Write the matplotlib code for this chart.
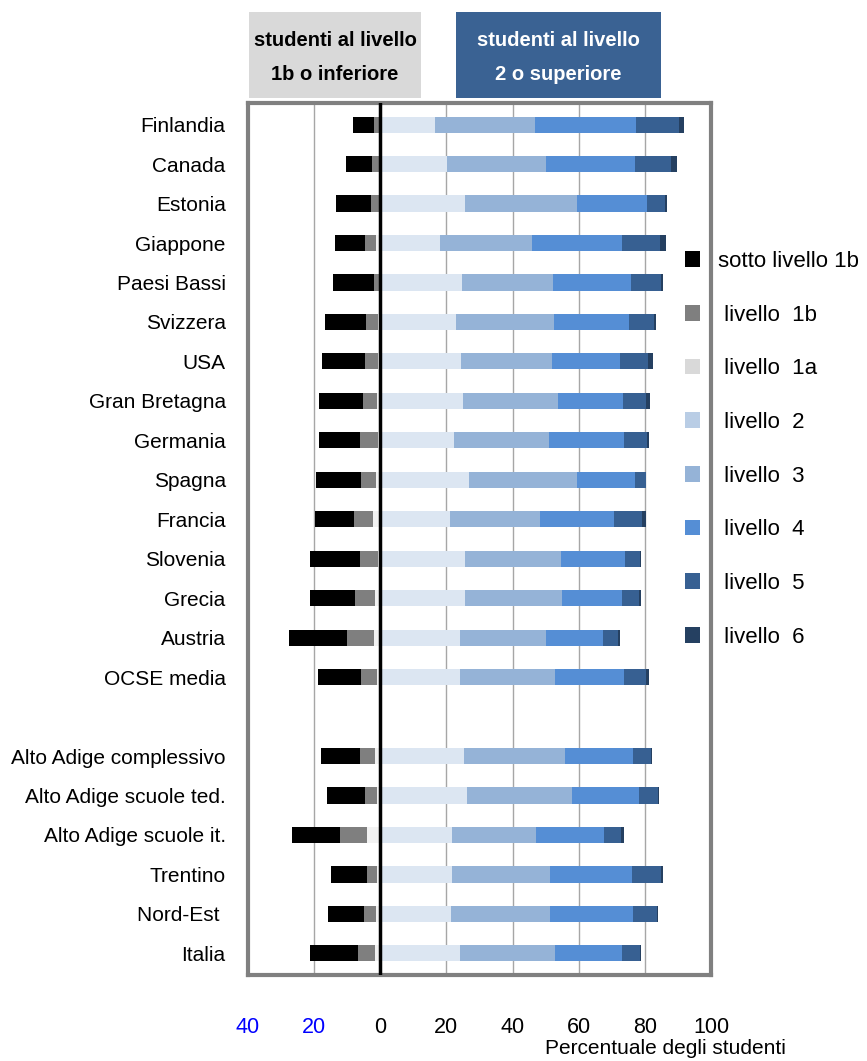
import numpy as np
import matplotlib
matplotlib.use("Agg")
import matplotlib.pyplot as plt
from matplotlib.patches import Rectangle, Patch

# PISA reading levels, % of students
paesi = ["Finlandia", "Canada", "Estonia", "Giappone", "Paesi Bassi", "Svizzera",
         "USA", "Gran Bretagna", "Germania", "Spagna", "Francia", "Slovenia",
         "Grecia", "Austria", "OCSE media", "",
         "Alto Adige complessivo", "Alto Adige scuole ted.", "Alto Adige scuole it.",
         "Trentino", "Nord-Est ", "Italia"]

# negative side, from 0 outwards
liv_1a = [0.2, 0.4, 0.3, 1.3, 0.1, 0.7, 0.6, 1.0, 0.8, 1.2, 2.3, 0.8, 1.6, 1.9, 1.1, 0,
          1.5, 0.9, 3.9, 0.9, 1.2, 1.5]
liv_1b = [1.7, 2.0, 2.4, 3.4, 1.8, 3.7, 4.0, 4.1, 5.2, 4.7, 5.5, 5.2, 5.9, 8.1, 4.6, 0,
          4.6, 3.6, 8.3, 3.2, 3.6, 5.2]
sotto_1b = [6.2, 7.9, 10.6, 8.9, 12.5, 12.3, 13.1, 13.4, 12.5, 13.6, 11.8, 15.2, 13.7, 17.5, 13.1, 0,
            11.9, 11.5, 14.4, 10.7, 10.9, 14.4]

# positive side
liv_2 = [16.7, 20.2, 25.6, 18.0, 24.7, 22.8, 24.4, 24.9, 22.2, 26.8, 21.1, 25.6, 25.6, 24.1, 24.0, 0,
         25.3, 26.1, 21.8, 21.8, 21.5, 24.0]
liv_3 = [30.1, 30.0, 33.8, 28.0, 27.6, 29.6, 27.6, 28.8, 28.8, 32.6, 27.2, 29.2, 29.3, 26.0, 28.9, 0,
         30.6, 32.0, 25.3, 29.6, 29.9, 28.9]
liv_4 = [30.6, 26.8, 21.2, 27.0, 23.5, 22.9, 20.6, 19.8, 22.8, 17.7, 22.4, 19.3, 18.2, 17.4, 20.7, 0,
         20.4, 20.2, 20.6, 24.6, 24.9, 20.2]
liv_5 = [12.9, 10.8, 5.4, 11.6, 9.1, 7.5, 8.4, 7.0, 7.0, 3.2, 8.5, 4.3, 5.2, 4.5, 6.8, 0,
         5.6, 5.8, 5.2, 8.9, 7.3, 5.4]
liv_6 = [1.6, 1.8, 0.6, 1.8, 0.7, 0.5, 1.5, 1.0, 0.6, 0.2, 1.1, 0.3, 0.6, 0.4, 0.8, 0,
         0.4, 0.3, 0.7, 0.6, 0.5, 0.4]

tick_vals = [-40, -20, 0, 20, 40, 60, 80, 100]
tick_text = ["40", "20", "0", "20", "40", "60", "80", "100"]

neg_colors = ["#f2f2f2", "#7f7f7f", "#000000"]
pos_colors = ["#dce6f2", "#95b3d7", "#558ed5", "#376092", "#254061"]
legend_labels = ["sotto livello 1b", " livello  1b", " livello  1a", " livello  2",
                 " livello  3", " livello  4", " livello  5", " livello  6"]
legend_colors = ["#000000", "#7f7f7f", "#d9d9d9", "#b9cde5", "#95b3d7", "#558ed5",
                 "#376092", "#254061"]

font = "Liberation Sans"

fig = plt.figure(figsize=(8.67, 10.61), dpi=100)
ax = fig.add_axes([0.286, 0.081, 0.534, 0.822])

y = np.arange(len(paesi))
h = 0.41

# left side
cum = np.zeros(len(paesi))
for vals, col in zip([liv_1a, liv_1b, sotto_1b], neg_colors):
    v = np.array(vals)
    ax.barh(y, -v, left=-cum, height=h, color=col, zorder=3)
    cum += v

# right side
cum = np.zeros(len(paesi))
for vals, col in zip([liv_2, liv_3, liv_4, liv_5, liv_6], pos_colors):
    v = np.array(vals)
    ax.barh(y, v, left=cum, height=h, color=col, zorder=3)
    cum += v

ax.set_xlim(-40, 100)
ax.set_ylim(len(paesi) - 0.45, -0.55)

for g in [-20, 20, 40, 60, 80]:
    ax.axvline(g, color="#a6a6a6", lw=1.0, zorder=1)
ax.axvline(0, color="black", lw=2.5, zorder=4)

ax.set_yticks(y)
ax.set_yticklabels(paesi, fontsize=15, family=font)
ax.set_xticks(tick_vals)
ax.set_xticklabels(tick_text, fontsize=15.5, family=font)
for lbl, v in zip(ax.get_xticklabels(), tick_vals):
    lbl.set_color("#0000ff" if v < 0 else "black")
ax.tick_params(axis="both", length=0)
ax.tick_params(axis="y", pad=16)
ax.tick_params(axis="x", pad=30)

for s in ax.spines.values():
    s.set_color("#808080")
    s.set_linewidth(3)

fig.text(545 / 867, 1 - 1048 / 1061, "Percentuale degli studenti", fontsize=15,
         family=font, ha="left", va="center")

# header boxes
fig.add_artist(Rectangle((249 / 867, 1 - 98 / 1061), 172 / 867, 86 / 1061,
                         transform=fig.transFigure, facecolor="#d9d9d9", edgecolor="none"))
fig.add_artist(Rectangle((456 / 867, 1 - 98 / 1061), 205 / 867, 86 / 1061,
                         transform=fig.transFigure, facecolor="#3a6293", edgecolor="none"))
fig.text(335 / 867, 1 - 57 / 1061, "studenti al livello\n1b o inferiore", fontsize=14.5,
         family=font, weight="bold", ha="center", va="center", linespacing=2.0)
fig.text(558 / 867, 1 - 57 / 1061, "studenti al livello\n2 o superiore", fontsize=14.5,
         family=font, weight="bold", color="white", ha="center", va="center",
         linespacing=2.0)

handles = [Patch(facecolor=c, edgecolor="none") for c in legend_colors]
fig.legend(handles, legend_labels, loc="upper left", bbox_to_anchor=(676 / 867, 1 - 242 / 1061),
           frameon=False, prop={"family": font, "size": 16},
           handlelength=0.7, handleheight=0.7, handletextpad=0.8, labelspacing=1.47,
           borderaxespad=0)

fig.savefig("out.png", dpi=100)
